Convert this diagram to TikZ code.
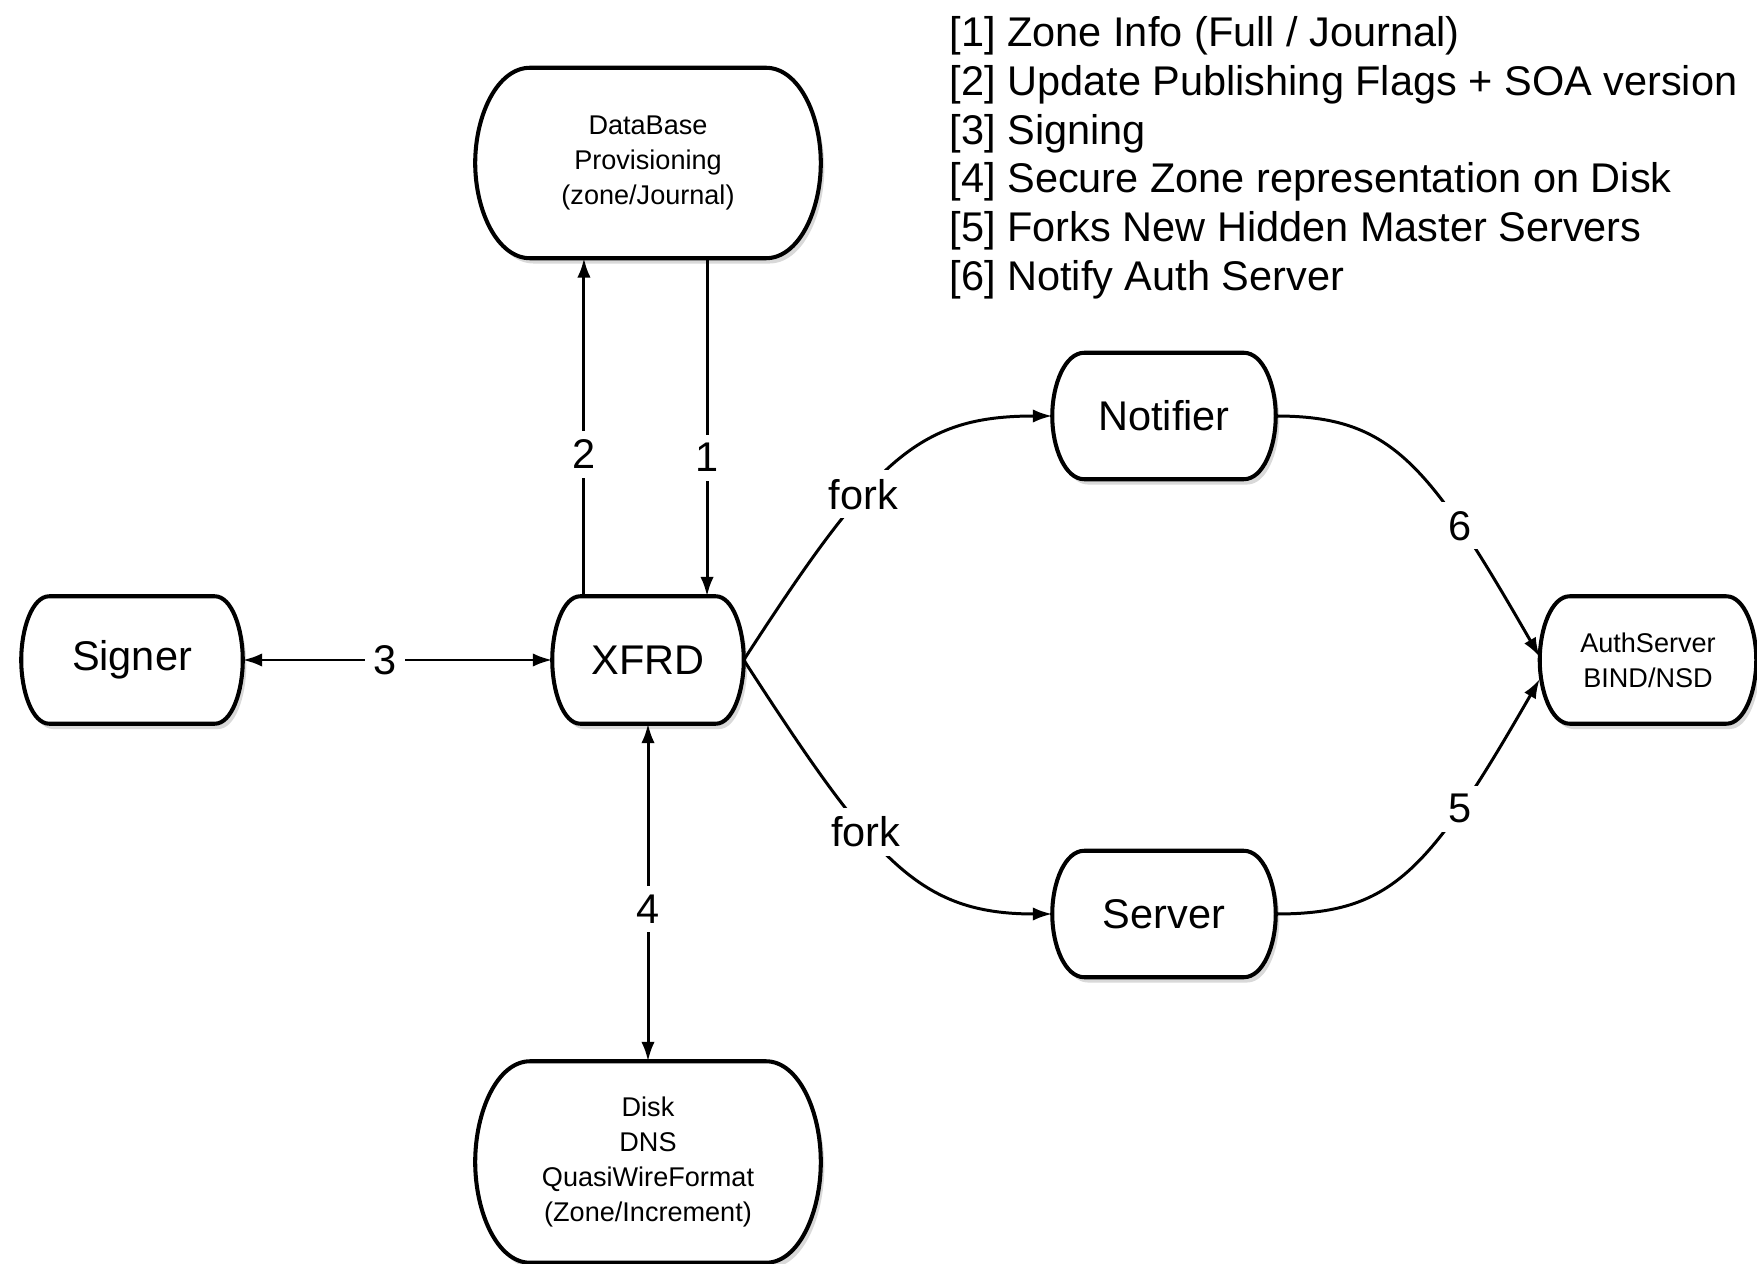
\documentclass[tikz,border=0pt]{standalone}
\usepackage{fontspec}
\setmainfont{Liberation Sans}
\usetikzlibrary{positioning, calc, shadows, backgrounds, arrows.meta}

\tikzset{
  bigtext/.style={font=\fontsize{11.8}{13.85}\selectfont},
  smalltext/.style={font=\fontsize{7.7}{10}\selectfont},
  termbox/.style={inner sep=0pt, align=center},
  termline/.style={draw=black, line width=1.15pt, fill=white,
    drop shadow={opacity=0.3, shadow xshift=1pt, shadow yshift=-1.5pt}},
  numlab/.style={fill=white, inner sep=2.5pt, font=\fontsize{11.8}{13.85}\selectfont},
  link/.style={line width=0.85pt, >={Latex[length=5.5pt,width=3.8pt]}}
}

% outline with bulging sides: #1 node, #2 inset of the flat edges
\newcommand{\termoutline}[2]{%
  \filldraw[termline] let \p1=(#1.north west), \p2=(#1.south east), \p3=(#1.east) in
    (\x1+#2,\y1) -- (\x2-#2,\y1)
    .. controls (\x2-0.4*#2,\y1) and (\x2,{\y1-0.5*(\y1-\y3)}) .. (\x2,\y3)
    .. controls (\x2,{\y2+0.5*(\y3-\y2)}) and (\x2-0.4*#2,\y2) .. (\x2-#2,\y2)
    -- (\x1+#2,\y2)
    .. controls (\x1+0.4*#2,\y2) and (\x1,{\y2+0.5*(\y3-\y2)}) .. (\x1,\y3)
    .. controls (\x1,{\y1-0.5*(\y1-\y3)}) and (\x1+0.4*#2,\y1) .. (\x1+#2,\y1) -- cycle;}

\begin{document}
\begin{tikzpicture}[x=0.01cm, y=-0.01cm]
      \useasboundingbox (0,0) rectangle (1757,1264);

      \node[termbox, smalltext, minimum width=3.44cm, minimum height=1.89cm] (db)       at ( 648, 163) {DataBase\\Provisioning\\(zone/Journal)};
      \node[termbox, bigtext,   minimum width=2.20cm, minimum height=1.26cm] (signer)   at ( 132, 660) {Signer};
      \node[termbox, bigtext,   minimum width=1.90cm, minimum height=1.26cm] (xfrd)     at ( 648, 660) {XFRD};
      \node[termbox, bigtext,   minimum width=2.22cm, minimum height=1.25cm] (notifier) at (1164, 416) {Notifier};
      \node[termbox, bigtext,   minimum width=2.22cm, minimum height=1.25cm] (server)   at (1164, 914) {Server};
      \node[termbox, smalltext, minimum width=2.15cm, minimum height=1.26cm] (auth)     at (1648, 660) {AuthServer\\BIND/NSD};
      \node[termbox, smalltext, minimum width=3.44cm, minimum height=2.00cm] (disk)     at ( 648,1162) {Disk\\DNS\\QuasiWireFormat\\(Zone/Increment)};

      \node[bigtext, anchor=north west, inner sep=0pt, align=left] (legend) at (949, 16)
        {{[1]} Zone Info (Full / Journal)\\
         {[2]} Update Publishing Flags + SOA version\\
         {[3]} Signing\\
         {[4]} Secure Zone representation on Disk\\
         {[5]} Forks New Hidden Master Servers\\
         {[6]} Notify Auth Server};

      \begin{scope}[on background layer]
        \foreach \nd/\ins in {db/0.55cm, disk/0.55cm, signer/0.28cm, xfrd/0.28cm, notifier/0.32cm, server/0.32cm, auth/0.3cm}
          {\termoutline{\nd}{\ins}}
      \end{scope}

      \draw[<->, link] (signer) -- (xfrd) node [numlab, pos=0.46] {3};
      \draw[->,  link] ([xshift=-0.64cm]xfrd.north) -- ([xshift=-0.64cm]db.south) node [numlab, pos=0.42] {2};
      \draw[->,  link] ([xshift=0.59cm]db.south) -- ([xshift=0.59cm]xfrd.north) node [numlab, pos=0.59] {1};
      \draw[<->, link] (xfrd) -- (disk) node [numlab, pos=0.55] {4};

      \draw[->, link] (xfrd.east) .. controls +(130,-201) and +(-134,0) .. (notifier.west) node [numlab, pos=0.375] {fork};
      \draw[->, link] (xfrd.east) .. controls +(130,201) and +(-134,0) .. (server.west) node [numlab, pos=0.385] {fork};
      \draw[->, link] (notifier.east) .. controls +(115,0) and +(-112,-195) .. ([yshift=0.03cm]auth.west) node [numlab, pos=0.72] {6};
      \draw[->, link] (server.east) .. controls +(115,0) and +(-112,195) .. ([yshift=-0.19cm]auth.west) node [numlab, pos=0.72] {5};
    \end{tikzpicture}
\end{document}
